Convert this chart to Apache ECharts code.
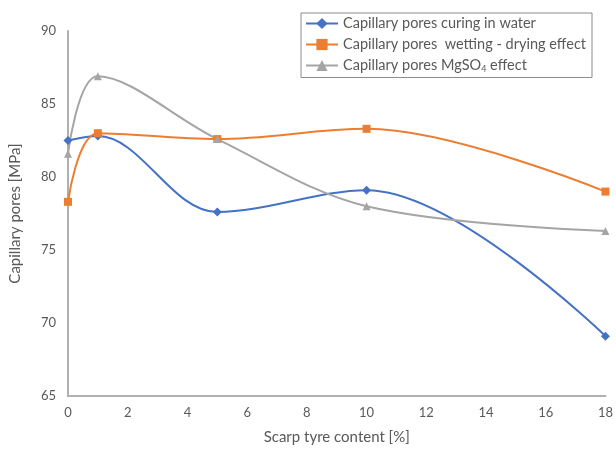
<!DOCTYPE html>
<html><head><meta charset="utf-8">
<script src="https://cdn.jsdelivr.net/npm/echarts@6/dist/echarts.min.js"></script>
<style>html,body{margin:0;padding:0;background:#fff}#c{width:616px;height:450px}</style>
</head><body><div id="c"></div>
<script>
const xValues = [0, 1, 5, 10, 18];
const curingWater = [82.5, 82.8, 77.6, 79.1, 69.1];
const wettingDrying = [78.3, 83.0, 82.6, 83.3, 79.0];
const mgso4 = [81.6, 86.9, 82.6, 78.0, 76.3];
const seriesNames = ['Capillary pores curing in water', 'Capillary pores  wetting - drying effect', 'Capillary pores MgSO4 effect'];
const xAxisTitle = 'Scarp tyre content [%]';
const yAxisTitle = 'Capillary pores [MPa]';

const font = 'Lato, "Open Sans", sans-serif';
const txt = '#595959';
function pts(arr){ return xValues.map((x,i)=>[x, arr[i]]); }
const chart = echarts.init(document.getElementById('c'), null, {renderer:'canvas'});
chart.setOption({
  animation:false,
  textStyle:{fontFamily:font},
  grid:{left:67, top:31, right:4, bottom:53, containLabel:false},
  legend:{
    orient:'vertical', left:301, top:13,
    padding:[3,6,4,4], itemGap:6, itemWidth:32, itemHeight:14,
    borderColor:'#8c8c8c', borderWidth:1, backgroundColor:'#fff',
    data:seriesNames,
    formatter:function(n){ return n === seriesNames[2] ? 'Capillary pores MgSO{sub|4} effect' : n; },
    textStyle:{color:txt, fontSize:14.5, fontFamily:font,
      rich:{sub:{fontSize:9, verticalAlign:'bottom', padding:[7,0,0,0], color:txt, fontFamily:font}}}
  },
  xAxis:{
    type:'value', min:0, max:18, interval:2,
    name:xAxisTitle, nameLocation:'middle', nameGap:34,
    nameTextStyle:{color:txt, fontSize:15, fontFamily:font},
    axisLine:{show:true, lineStyle:{color:'#b0b0b0', width:2}},
    axisTick:{show:false}, splitLine:{show:false},
    axisLabel:{color:txt, fontSize:13, margin:10, fontFamily:font}
  },
  yAxis:{
    type:'value', min:65, max:90, interval:5,
    name:yAxisTitle, nameLocation:'middle', nameGap:45,
    nameTextStyle:{color:txt, fontSize:15, fontFamily:font},
    axisLine:{show:true, lineStyle:{color:'#b0b0b0', width:2}},
    axisTick:{show:false}, splitLine:{show:false},
    axisLabel:{color:txt, fontSize:13, margin:12, fontFamily:font}
  },
  series:[
    {name:seriesNames[0], type:'line', smooth:0.35, data:pts(curingWater),
     symbol:'diamond', symbolSize:9, color:'#4472C4', lineStyle:{width:2}},
    {name:seriesNames[1], type:'line', smooth:0.35, data:pts(wettingDrying),
     symbol:'rect', symbolSize:8, color:'#ED7D31', lineStyle:{width:2}},
    {name:seriesNames[2], type:'line', smooth:0.35, data:pts(mgso4),
     symbol:'triangle', symbolSize:8, color:'#A5A5A5', lineStyle:{width:2}}
  ]
});
</script></body></html>
